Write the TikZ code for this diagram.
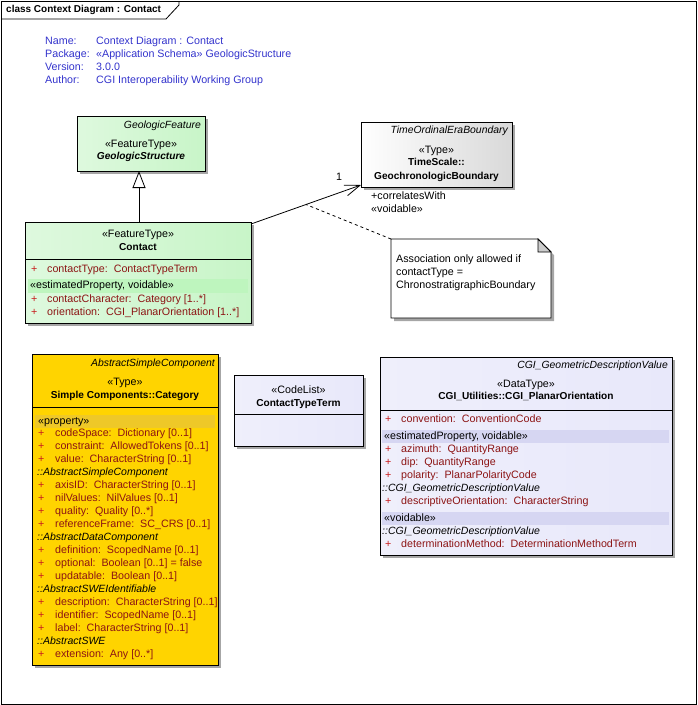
\documentclass[tikz,border=0pt]{standalone}
\usepackage{fontspec}
\setmainfont{Liberation Sans}
\usetikzlibrary{arrows.meta, shadows, calc, positioning}
\definecolor{hdrblue}{RGB}{51,51,204}
\definecolor{attrred}{RGB}{140,20,20}
\definecolor{plusred}{RGB}{200,30,30}
\definecolor{featgreen}{RGB}{200,245,200}
\definecolor{featband}{RGB}{190,245,190}
\definecolor{catgold}{RGB}{255,212,0}
\definecolor{catband}{RGB}{238,200,40}
\definecolor{dtlav}{RGB}{232,232,250}
\definecolor{dtband}{RGB}{214,214,242}
\tikzstyle{umlbox} = [draw, line width=0.8pt, inner sep=0pt, outer sep=0pt, anchor=north west,
  drop shadow={shadow xshift=3pt, shadow yshift=-3pt, fill=black!35, opacity=1}]
\tikzstyle{txt} = [inner sep=0pt, text height=7pt, text depth=2pt, font=\fontsize{10.7}{13}\selectfont]
\tikzstyle{lft} = [txt, anchor=west]
\tikzstyle{attr} = [lft, text=attrred]
\tikzstyle{plus} = [lft, text=plusred]
\tikzstyle{sect} = [lft, font=\fontsize{10.5}{13}\selectfont\itshape]
\tikzstyle{parent} = [txt, anchor=east, font=\fontsize{10.4}{13}\selectfont\itshape]
\tikzstyle{clsname} = [txt, font=\fontsize{10.1}{13}\selectfont\bfseries]
\tikzstyle{hdr} = [lft, text=hdrblue]

\begin{document}
\begin{tikzpicture}[x=1pt, y=-1pt]
\useasboundingbox (0,0) rectangle (697,705);
% frame and tab
\draw[line width=0.8pt] (1,1) rectangle (696,704);
\draw[line width=0.8pt] (1,19) -- (166,19) -- (179,5) -- (179,1);
\node (title) [lft, font=\fontsize{10}{12}\selectfont\bfseries] at (6,10) {class Context Diagram : Contact};

% diagram properties
\node (nameL) [hdr] at (45,42) {Name:};
\node (nameV) [hdr] at (96,42) {Context Diagram : Contact};
\node (pkgL) [hdr] at (45,55) {Package:};
\node (pkgV) [hdr] at (96,55) {«Application Schema» GeologicStructure};
\node (verL) [hdr] at (45,68) {Version:};
\node (verV) [hdr] at (96,68) {3.0.0};
\node (authL) [hdr] at (45,81) {Author:};
\node (authV) [hdr] at (96,81) {CGI Interoperability Working Group};

% GeologicStructure
\node (geostruct) [umlbox, left color=featgreen!60!white, right color=featgreen,
  minimum width=128pt, minimum height=55pt] at (77,116) {};
\node (geostructP) [parent] at (201,126) {GeologicFeature};
\node (geostructS) [txt] at (141,145) {«FeatureType»};
\node (geostructN) [clsname, font=\fontsize{10.1}{13}\selectfont\bfseries\itshape] at (141,157) {GeologicStructure};

% GeochronologicBoundary
\node (geochron) [umlbox, left color=white, right color=black!15,
  minimum width=151pt, minimum height=65pt] at (361,122) {};
\node (geochronP) [parent] at (508,131) {TimeOrdinalEraBoundary};
\node (geochronS) [txt] at (436.5,151) {«Type»};
\node (geochronN1) [clsname] at (436.5,163) {TimeScale::};
\node (geochronN2) [clsname] at (436.5,177) {GeochronologicBoundary};

% Contact
\node (contact) [umlbox, left color=featgreen!60!white, right color=featgreen,
  minimum width=226pt, minimum height=101pt] at (25,222) {};
\node (contactS) [txt] at (138,235) {«FeatureType»};
\node (contactN) [clsname] at (138,248) {Contact};
\draw[line width=0.8pt] (25,259) -- (251,259);
\fill[featband] (28,279) rectangle (248,293);
\node (contactB) [lft] at (30,286) {«estimatedProperty, voidable»};
\foreach \y/\txt [count=\i] in {270/{contactType:\ \ ContactTypeTerm},
    300/{contactCharacter:\ \ Category [1..*]},
    313/{orientation:\ \ CGI\_PlanarOrientation [1..*]}}
  {
  \node (contactplus\i) [plus] at (31,\y) {+};
  \node (contactattr\i) [attr] at (47,\y) {\txt};
  }

% generalization
\draw[line width=0.8pt, -{Triangle[open, length=17pt, width=13pt, fill=white]}]
  (contact.north -| 139,0) -- (geostruct.south -| 139,0);

% association
\coordinate (assocStart) at ($(contact.north east)+(0,2)$);
\coordinate (assocEnd) at ($(geochron.south west)+(0,-2)$);
\draw[line width=0.8pt, -{Straight Barb[length=15pt, width=11pt]}] (assocStart) -- (assocEnd);
\node (multOne) [txt] at (339,178) {1};
\node (roleName) [lft] at (371,197) {+correlatesWith};
\node (roleStereo) [lft] at (371,210) {«voidable»};

% note
\node (note) [inner sep=0pt, outer sep=0pt, anchor=north west, minimum width=160pt, minimum height=79pt] at (391,239) {};
\fill[black!35] ($(note.north east)+(3,16)$) -- ($(note.south east)+(3,3)$) -- ($(note.south west)+(3,3)$) -- ($(note.south west)+(3,0)$) -- (note.south east) -- ($(note.north east)+(0,13)$) -- cycle;
\draw[line width=0.8pt, fill=white] (note.north west) -- ($(note.north east)+(-13,0)$) -- ($(note.north east)+(0,13)$) -- (note.south east) -- (note.south west) -- cycle;
\draw[line width=0.8pt, fill=black!20] ($(note.north east)+(-13,0)$) -- ($(note.north east)+(-13,13)$) -- ($(note.north east)+(0,13)$) -- cycle;
\node (noteL1) [lft] at (396,260) {Association only allowed if};
\node (noteL2) [lft] at (396,273) {contactType =};
\node (noteL3) [lft] at (396,286) {ChronostratigraphicBoundary};
\draw[line width=0.8pt, dashed] (note.north west) -- ($(assocStart)!0.5!(assocEnd)$);

% Category
\node (category) [umlbox, fill=catgold, minimum width=186pt, minimum height=311pt] at (32,354) {};
\node (categoryP) [parent] at (215,364) {AbstractSimpleComponent};
\node (categoryS) [txt] at (125,383) {«Type»};
\node (categoryN) [clsname] at (125,396) {Simple Components::Category};
\draw[line width=0.8pt] (32,407) -- (218,407);
\fill[catband] (35,415) rectangle (215,428);
\node (categoryB) [lft] at (38,422) {«property»};
\foreach \y/\txt [count=\i] in {434/{codeSpace:\ \ Dictionary [0..1]},
    447/{constraint:\ \ AllowedTokens [0..1]},
    460/{value:\ \ CharacterString [0..1]},
    486/{axisID:\ \ CharacterString [0..1]},
    499/{nilValues:\ \ NilValues [0..1]},
    512/{quality:\ \ Quality [0..*]},
    525/{referenceFrame:\ \ SC\_CRS [0..1]},
    551/{definition:\ \ ScopedName [0..1]},
    564/{optional:\ \ Boolean [0..1] = false},
    577/{updatable:\ \ Boolean [0..1]},
    603/{description:\ \ CharacterString [0..1]},
    616/{identifier:\ \ ScopedName [0..1]},
    629/{label:\ \ CharacterString [0..1]},
    655/{extension:\ \ Any [0..*]}}
  {
  \node (catplus\i) [plus] at (38,\y) {+};
  \node (catattr\i) [attr] at (55,\y) {\txt};
  }
\node (catsect1) [sect] at (37,473) {::AbstractSimpleComponent};
\node (catsect2) [sect] at (37,538) {::AbstractDataComponent};
\node (catsect3) [sect] at (37,590) {::AbstractSWEIdentifiable};
\node (catsect4) [sect] at (37,642) {::AbstractSWE};

% ContactTypeTerm
\node (ctterm) [umlbox, left color=dtlav!70!white, right color=dtlav,
  minimum width=129pt, minimum height=71pt] at (234,375) {};
\node (cttermS) [txt] at (298.5,391) {«CodeList»};
\node (cttermN) [clsname] at (298.5,404) {ContactTypeTerm};
\draw[line width=0.8pt] (234,414) -- (363,414);

% CGI_PlanarOrientation
\node (planar) [umlbox, left color=dtlav!70!white, right color=dtlav,
  minimum width=292pt, minimum height=198pt] at (380,357) {};
\node (planarP) [parent] at (668,366) {CGI\_GeometricDescriptionValue};
\node (planarS) [txt] at (526,385) {«DataType»};
\node (planarN) [clsname] at (526,397) {CGI\_Utilities::CGI\_PlanarOrientation};
\draw[line width=0.8pt] (380,410) -- (672,410);
\fill[dtband] (382,430) rectangle (669,443);
\node (planarB1) [lft] at (384,437) {«estimatedProperty, voidable»};
\fill[dtband] (382,512) rectangle (669,525);
\node (planarB2) [lft] at (384,519) {«voidable»};
\foreach \y/\txt [count=\i] in {420/{convention:\ \ ConventionCode},
    450/{azimuth:\ \ QuantityRange},
    463/{dip:\ \ QuantityRange},
    476/{polarity:\ \ PlanarPolarityCode},
    502/{descriptiveOrientation:\ \ CharacterString},
    545/{determinationMethod:\ \ DeterminationMethodTerm}}
  {
  \node (planarplus\i) [plus] at (385,\y) {+};
  \node (planarattr\i) [attr] at (401,\y) {\txt};
  }
\node (planarsect1) [sect] at (382,489) {::CGI\_GeometricDescriptionValue};
\node (planarsect2) [sect] at (382,532) {::CGI\_GeometricDescriptionValue};
\end{tikzpicture}
\end{document}
